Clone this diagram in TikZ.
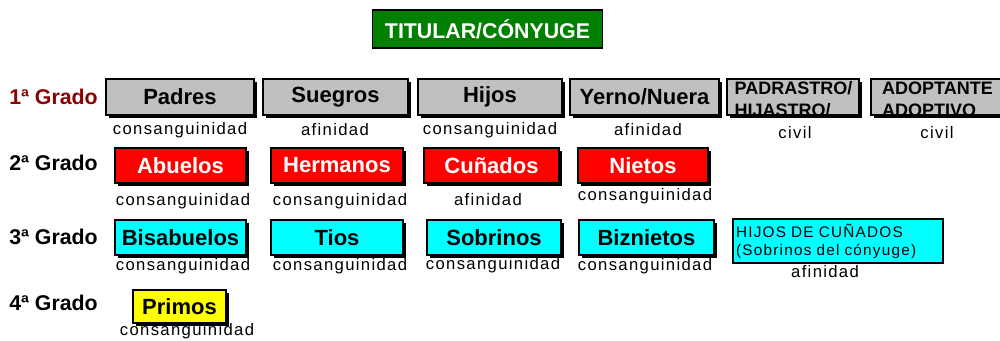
\documentclass[tikz,border=0pt]{standalone}
\usepackage{fontspec}
\setmainfont{Liberation Sans}
\newfontfamily\spaced[LetterSpace=8]{Liberation Sans}
\usetikzlibrary{shadows}

\definecolor{gris}{RGB}{192,192,192}
\definecolor{rojo}{RGB}{255,0,0}
\definecolor{celeste}{RGB}{0,255,255}
\definecolor{amarillo}{RGB}{255,255,0}
\definecolor{verde}{RGB}{0,128,0}
\definecolor{granate}{RGB}{139,0,0}

\tikzstyle{caja} = [draw=black,line width=0.8pt,minimum height=27pt,inner sep=0pt,font=\fontsize{16.5}{18}\selectfont\bfseries,drop shadow={shadow xshift=2.5pt,shadow yshift=-2.5pt,opacity=1,fill=black}]
\tikzstyle{grado} = [anchor=west,inner sep=0pt,font=\fontsize{16}{18}\selectfont\bfseries]
\tikzstyle{tipo} = [inner sep=0pt,font=\spaced\fontsize{12.5}{14}\selectfont]
\tikzstyle{recorte} = [anchor=north west,align=left,inner sep=1.5pt,font=\fontsize{13.5}{16.5}\selectfont\bfseries]

\begin{document}
\begin{tikzpicture}[x=0.75pt,y=-0.75pt]
\useasboundingbox (0,0) rectangle (1000,340);

\node (titular) [draw=black,line width=0.8pt,fill=verde,text=white,minimum width=173pt,minimum height=28.5pt,font=\fontsize{16}{18}\selectfont\bfseries] at (487.5,29) {TITULAR/CÓNYUGE};

% grados
\node (g1) [grado,text=granate] at (9,97) {1ª Grado};
\node (g2) [grado] at (9,163) {2ª Grado};
\node (g3) [grado] at (9,237) {3ª Grado};
\node (g4) [grado] at (9,303) {4ª Grado};

% 1 grado
\node (padres) [caja,fill=gris,minimum width=111pt] at (180,97) {Padres};
\node (suegros) [caja,fill=gris,minimum width=108.75pt] at (335.5,97) {Suegros};
\node (hijos) [caja,fill=gris,minimum width=108pt] at (490,97) {Hijos};
\node (yerno) [caja,fill=gris,minimum width=111.75pt] at (644.5,97) {Yerno/Nuera};
\node (padrastro) [caja,fill=gris,minimum width=99pt,path picture={\node [recorte] at (path picture bounding box.north west) {PADRASTRO/\\HIJASTRO/};}] at (793,97) {};
\node (adoptante) [caja,fill=gris,minimum width=99pt,path picture={\node [recorte] at (path picture bounding box.north west) {ADOPTANTE\\ADOPTIVO};}] at (937,97) {};
\node (tpadres) [tipo] at (180,130) {consanguinidad};
\node (tsuegros) [tipo] at (335,130) {afinidad};
\node (thijos) [tipo] at (490,130) {consanguinidad};
\node (tyerno) [tipo] at (648,130) {afinidad};
\node (tpadrastro) [tipo] at (795,133) {civil};
\node (tadoptante) [tipo] at (937,133) {civil};

% 2 grado
\node (abuelos) [caja,fill=rojo,text=white,minimum width=98.25pt,minimum height=26.25pt] at (180.5,165.5) {Abuelos};
\node (hermanos) [caja,fill=rojo,text=white,minimum width=99pt,minimum height=26.25pt] at (337,165.5) {Hermanos};
\node (cunados) [caja,fill=rojo,text=white,minimum width=101.25pt,minimum height=26.25pt] at (491.5,165.5) {Cuñados};
\node (nietos) [caja,fill=rojo,text=white,minimum width=97.5pt,minimum height=26.25pt] at (643,165.5) {Nietos};
\node (tabuelos) [tipo] at (183,201) {consanguinidad};
\node (thermanos) [tipo] at (340,201) {consanguinidad};
\node (tcunados) [tipo] at (488,200) {afinidad};
\node (tnietos) [tipo] at (645,196) {consanguinidad};

% 3 grado
\node (bisabuelos) [caja,fill=celeste,minimum width=98.25pt,minimum height=26.25pt] at (180.5,237.5) {Bisabuelos};
\node (tios) [caja,fill=celeste,minimum width=99pt,minimum height=26.25pt] at (337,237.5) {Tios};
\node (sobrinos) [caja,fill=celeste,minimum width=100.5pt,minimum height=26.25pt] at (494,237.5) {Sobrinos};
\node (biznietos) [caja,fill=celeste,minimum width=101.25pt,minimum height=26.25pt] at (646.5,237.5) {Biznietos};
\node (hijoscun) [draw=black,line width=1.2pt,fill=celeste,minimum width=157.5pt,minimum height=33pt,inner sep=2pt,text width=153pt,align=left,font=\spaced\fontsize{11.5}{13.5}\selectfont] at (838,241) {HIJOS DE CUÑADOS\\(Sobrinos del cónyuge)};
\node (tbisabuelos) [tipo] at (183,266) {consanguinidad};
\node (ttios) [tipo] at (340,266) {consanguinidad};
\node (tsobrinos) [tipo] at (493,265) {consanguinidad};
\node (tbiznietos) [tipo] at (645,266) {consanguinidad};
\node (thijoscun) [tipo] at (825,272) {afinidad};

% 4 grado
\node (primos) [caja,fill=amarillo,minimum width=69.75pt,minimum height=24.75pt] at (179.5,306.5) {Primos};
\node (tprimos) [tipo] at (187,331) {consanguinidad};

\end{tikzpicture}
\end{document}
